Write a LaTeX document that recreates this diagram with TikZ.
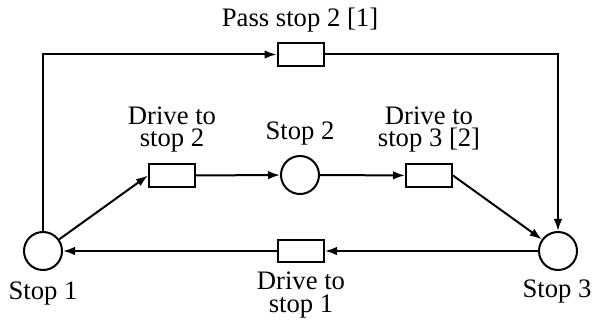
\documentclass[tikz,border=0pt]{standalone}
\usepackage{fontspec}
\setmainfont{Liberation Serif}
\usetikzlibrary{arrows.meta}
\begin{document}
\begin{tikzpicture}[x=0.375pt,y=-0.375pt,
  line width=0.75pt,
  place/.style={draw,circle,minimum size=14.25pt,inner sep=0pt},
  trans/.style={draw,rectangle,minimum width=17.25pt,minimum height=8.6pt,inner sep=0pt},
  lbl/.style={inner sep=0pt,align=center,font=\fontsize{10}{8.6}\selectfont},
  arc/.style={-{Latex[length=4.5pt,width=3.2pt]}}]
\useasboundingbox (0,0) rectangle (592,320);
\node[place] (s1) at (43,251) {};
\node[place] (s2) at (300,175) {};
\node[place] (s3) at (558,251) {};
\node[trans] (t2) at (172,175.5) {};
\node[trans] (t3) at (429,175.5) {};
\node[trans] (t1) at (301,251) {};
\node[trans] (tp) at (300.5,54.5) {};
\coordinate (c1) at (43,54.5);
\coordinate (c2) at (558,54.5);
\node[lbl,anchor=base] (ls1) at (43,299) {Stop 1};
\node[lbl,anchor=base] (ls2) at (300,140) {Stop 2};
\node[lbl,anchor=base] (ls3) at (557,298) {Stop 3};
\node[lbl,anchor=base] (lp) at (300,27) {Pass stop 2 [1]};
\node[lbl] (lt2) at (172,129.5) {Drive to\\stop 2};
\node[lbl] (lt3) at (429,129.5) {Drive to\\stop 3 [2]};
\node[lbl] (lt1) at (301,295) {Drive to\\stop 1};
\draw[arc] (s1) -- (c1) -- (tp);
\draw[arc] (tp) -- (c2) -- (s3);
\draw[arc] (s1) -- (t2.west);
\draw[arc] (t2) -- (s2);
\draw[arc] (s2) -- (t3);
\draw[arc] (t3.east) -- (s3);
\draw[arc] (s3) -- (t1);
\draw[arc] (t1) -- (s1);
\end{tikzpicture}
\end{document}
